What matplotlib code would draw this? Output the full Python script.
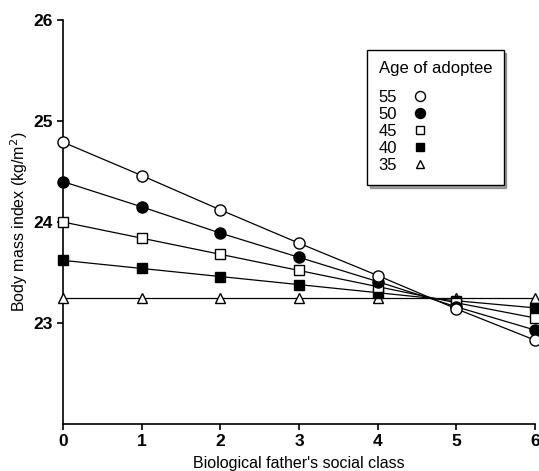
import numpy as np
import matplotlib.pyplot as plt
from matplotlib.lines import Line2D

plt.rcParams['font.family'] = ['Liberation Sans', 'DejaVu Sans']

social_class = [0, 1, 2, 3, 4, 5, 6]
ages = ['55', '50', '45', '40', '35']
bmi_55 = [24.79, 24.46, 24.12, 23.79, 23.47, 23.14, 22.83]
bmi_50 = [24.40, 24.15, 23.89, 23.65, 23.41, 23.16, 22.93]
bmi_45 = [24.00, 23.84, 23.68, 23.52, 23.36, 23.20, 23.05]
bmi_40 = [23.62, 23.54, 23.46, 23.38, 23.30, 23.22, 23.15]
bmi_35 = [23.25, 23.25, 23.25, 23.25, 23.25, 23.25, 23.25]

series = [bmi_55, bmi_50, bmi_45, bmi_40, bmi_35]
markers = ['o', 'o', 's', 's', '^']
faces = ['white', 'black', 'white', 'black', 'white']
sizes = [8, 8, 6.5, 6.5, 7]

fig = plt.figure(figsize=(5.39, 4.71), dpi=100)
ax = fig.add_axes([0.117, 0.0998, 0.8756, 0.8577])

# draw flat line first so others sit on top
for vals, m, fc, ms in reversed(list(zip(series, markers, faces, sizes))):
    ax.plot(social_class, vals, color='black', lw=0.9, marker=m,
            markerfacecolor=fc, markeredgecolor='black', markersize=ms,
            markeredgewidth=1.0, clip_on=False, zorder=3)

ax.set_xlim(0, 6)
ax.set_ylim(22, 26)
ax.set_xticks(social_class)
ax.set_yticks([23, 24, 25, 26])
ax.spines['top'].set_visible(False)
ax.spines['right'].set_visible(False)
ax.spines['left'].set_linewidth(1.2)
ax.spines['bottom'].set_linewidth(1.2)
ax.tick_params(direction='out', length=4, width=1.2, labelsize=12.5)
for t in ax.get_xticklabels() + ax.get_yticklabels():
    t.set_fontweight('bold')

ax.set_xlabel("Biological father's social class", fontsize=11.5, labelpad=5)
ax.set_ylabel('Body mass index (kg/m$^2$)', fontsize=11.5, labelpad=2)

handles = [Line2D([], [], linestyle='none', marker=m, markerfacecolor=fc,
                  markeredgecolor='black', markersize=ms * 0.9)
           for m, fc, ms in zip(markers, faces, sizes)]
leg = ax.legend(handles, ages, title='Age of adoptee', markerfirst=False,
                loc='upper left', bbox_to_anchor=(0.626, 0.947),
                fontsize=12, title_fontsize=12, frameon=True, shadow=True,
                fancybox=False, handlelength=1.0, handletextpad=0.9,
                labelspacing=0.12, borderpad=0.7, alignment='left')
leg.get_frame().set_edgecolor('black')
leg.get_frame().set_linewidth(1.0)
leg._legend_box.sep = 10

fig.savefig('out.png', dpi=100)
